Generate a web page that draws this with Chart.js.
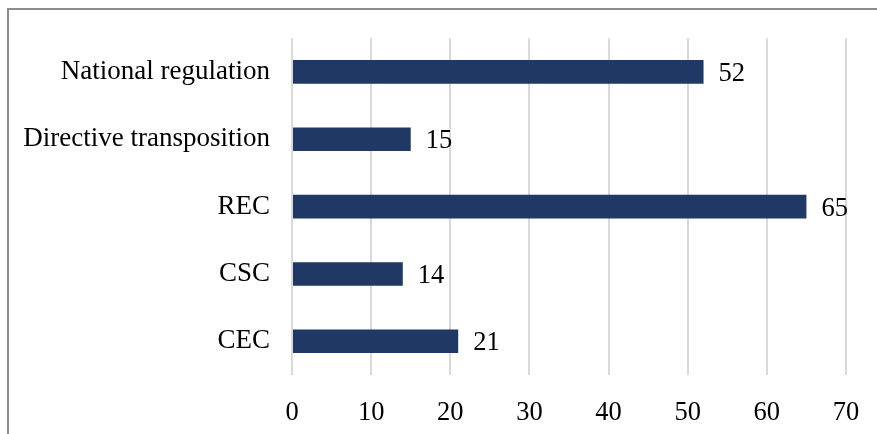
<!DOCTYPE html>
<html>
<head>
<meta charset="utf-8">
<script src="https://cdn.jsdelivr.net/npm/chart.js@4/dist/chart.umd.min.js"></script>
<style>
    html, body { margin: 0; padding: 0; background: #fff; }
    #wrap { position: relative; width: 877px; height: 434px; overflow: hidden; }
    #frame {
        position: absolute; left: 7px; top: 8px; width: 900px; height: 460px;
        border-top: 2px solid #8c8c8c; border-left: 2px solid #8c8c8c;
    }
    canvas { position: absolute; left: 0; top: 0; }
</style>
</head>
<body>
<div id="wrap">
    <div id="frame"></div>
    <canvas id="myChart" width="877" height="434"></canvas>
</div>
<script>
const categories = ['National regulation', 'Directive transposition', 'REC', 'CSC', 'CEC'];
const counts = [52, 15, 65, 14, 21];
const xTicks = [0, 10, 20, 30, 40, 50, 60, 70];

const serif = "'Times New Roman', 'Liberation Serif', serif";

// number written just past the end of each bar
const valueLabels = {
    id: 'valueLabels',
    afterDatasetsDraw(chart) {
        const ctx = chart.ctx;
        const meta = chart.getDatasetMeta(0);
        ctx.save();
        ctx.font = '26.5px ' + serif;
        ctx.fillStyle = '#000';
        ctx.textAlign = 'left';
        ctx.textBaseline = 'middle';
        meta.data.forEach((bar, i) => {
            ctx.fillText(String(counts[i]), bar.x + 15, bar.y + 2);
        });
        ctx.restore();
    }
};

var ctx = document.getElementById('myChart').getContext('2d');

var myChart = new Chart(ctx, { // eslint-disable-line
    type: 'bar',
    data: {
        labels: categories,
        datasets: [{
            data: counts,
            backgroundColor: '#203864',
            borderWidth: 0,
            barPercentage: 0.35,
            categoryPercentage: 1
        }]
    },
    options: {
        indexAxis: 'y',
        responsive: false,
        animation: false,
        layout: {
            padding: { top: 38, right: 31, bottom: 0, left: 0 }
        },
        plugins: {
            legend: { display: false },
            tooltip: { enabled: false }
        },
        scales: {
            x: {
                min: 0,
                max: 70,
                afterBuildTicks: (axis) => {
                    axis.ticks = xTicks.map(v => ({ value: v }));
                },
                afterFit: (axis) => {
                    axis.height = 59;
                    // keep the plot edge fixed; the outer padding already leaves room for "70"
                    axis.paddingLeft = 0;
                    axis.paddingRight = 0;
                },
                grid: { color: '#d9d9d9', lineWidth: 2, drawTicks: false },
                border: { display: false },
                ticks: {
                    padding: 22,
                    color: '#000',
                    font: { family: serif, size: 26.5 }
                }
            },
            y: {
                afterFit: (axis) => { axis.width = 292; },
                grid: { display: false, drawTicks: false },
                border: { display: false },
                ticks: {
                    padding: 22,
                    color: '#000',
                    font: { family: serif, size: 27 }
                }
            }
        }
    },
    plugins: [valueLabels]
});
</script>
</body>
</html>
